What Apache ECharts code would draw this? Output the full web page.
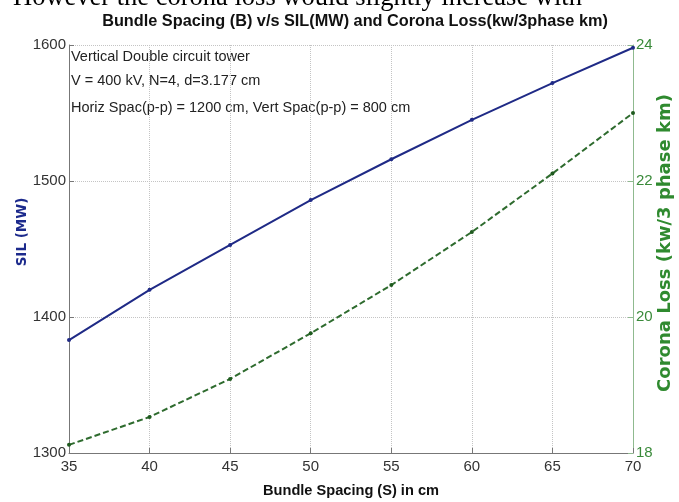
<!DOCTYPE html>
<html>
	<head>
		<meta charset="utf-8" />
		<title>Bundle Spacing vs SIL and Corona Loss</title>
		<script src="https://cdn.jsdelivr.net/npm/echarts@6/dist/echarts.min.js"></script>
		<style>
			body { margin: 0; background: #fff; }
			#main { width: 679px; height: 502px; }
		</style>
	</head>
	<body>
		<div id="main"></div>
		<script type="text/javascript">
			// bundle spacing (cm)
			var spacing = [35, 40, 45, 50, 55, 60, 65, 70];
			// SIL (MW)
			var sil = [1383, 1420, 1453, 1486, 1516, 1545, 1572, 1598];
			// corona loss (kw/3 phase km)
			var corona = [18.12, 18.53, 19.09, 19.76, 20.47, 21.25, 22.11, 23.0];

			var notes = [
				'Vertical Double circuit tower',
				'V = 400 kV, N=4, d=3.177 cm',
				'Horiz Spac(p-p) = 1200 cm, Vert Spac(p-p) = 800 cm'
			];

			function pairs(xs, ys) {
				var out = [];
				for (var i = 0; i < xs.length; i++) out.push([xs[i], ys[i]]);
				return out;
			}

			var sans = '"Liberation Sans", Arial, sans-serif';
			var gridLine = { show: true, lineStyle: { color: '#c4c4c4', type: 'dotted', width: 1 } };

			var myChart = echarts.init(document.getElementById('main'));

			var option = {
				backgroundColor: '#fff',
				animation: false,
				title: {
					text: 'Bundle Spacing (B) v/s SIL(MW) and Corona Loss(kw/3phase km)',
					left: 350,
					textAlign: 'center',
					top: 9,
					textStyle: { fontFamily: sans, fontSize: 16.3, fontWeight: 'bold', color: '#111' }
				},
				graphic: [
					{
						type: 'text', left: 13, top: -15,
						style: { text: 'However the corona loss would slightly increase with', fontFamily: '"Liberation Serif", serif', fontSize: 26.5, fill: '#000' }
					},
					{
						type: 'text', left: 71, top: 49,
						style: { text: notes[0], fontFamily: sans, fontSize: 14.5, fill: '#222' }
					},
					{
						type: 'text', left: 71, top: 73,
						style: { text: notes[1], fontFamily: sans, fontSize: 14.5, fill: '#222' }
					},
					{
						type: 'text', left: 71, top: 100,
						style: { text: notes[2], fontFamily: sans, fontSize: 14.5, fill: '#222' }
					},
					{
						type: 'text', x: 22, y: 232, rotation: Math.PI / 2,
						style: { text: 'SIL (MW)', fontFamily: '"DejaVu Sans", sans-serif', fontSize: 13.5, fontWeight: 'bold', fill: '#1c2a8c', align: 'center', verticalAlign: 'middle' }
					},
					{
						type: 'text', x: 665, y: 243, rotation: Math.PI / 2,
						style: { text: 'Corona Loss (kw/3 phase km)', fontFamily: '"DejaVu Sans", sans-serif', fontSize: 18, fontWeight: 'bold', fill: '#2f8a2f', align: 'center', verticalAlign: 'middle' }
					}
				],
				grid: { left: 69, right: 46, top: 45, bottom: 49, outerBoundsMode: 'none', containLabel: false },
				xAxis: {
					type: 'value',
					min: 35, max: 70, interval: 5,
					name: 'Bundle Spacing (S) in cm',
					nameLocation: 'middle',
					nameGap: 30,
					nameTextStyle: { fontFamily: sans, fontSize: 14.6, fontWeight: 'bold', color: '#111' },
					axisLine: { show: true, onZero: false, lineStyle: { color: '#777' } },
					axisTick: { show: true, inside: true, length: 5, lineStyle: { color: '#777' } },
					axisLabel: { fontFamily: sans, fontSize: 15, color: '#333', margin: 6 },
					splitLine: gridLine
				},
				yAxis: [
					{
						type: 'value',
						min: 1300, max: 1600, interval: 100,
						axisLine: { show: true, lineStyle: { color: '#777' } },
						axisTick: { show: true, inside: true, length: 5, lineStyle: { color: '#777' } },
						axisLabel: { fontFamily: sans, fontSize: 15, color: '#333', margin: 3, formatter: function (v) { return String(v); } },
						splitLine: gridLine
					},
					{
						type: 'value',
						min: 18, max: 24, interval: 2,
						axisLine: { show: true, lineStyle: { color: '#8fba8f' } },
						axisTick: { show: true, inside: true, length: 5, lineStyle: { color: '#8fba8f' } },
						axisLabel: { fontFamily: sans, fontSize: 15, color: '#3a8a3a', margin: 3 },
						splitLine: { show: false }
					}
				],
				series: [
					{
						name: 'SIL',
						type: 'line',
						yAxisIndex: 0,
						data: pairs(spacing, sil),
						symbol: 'circle',
						symbolSize: 4,
						lineStyle: { color: '#1f2a86', width: 2 },
						itemStyle: { color: '#1f2a86' }
					},
					{
						name: 'Corona Loss',
						type: 'line',
						yAxisIndex: 1,
						data: pairs(spacing, corona),
						symbol: 'circle',
						symbolSize: 4,
						lineStyle: { color: '#2e6b2e', width: 2, type: [6, 3] },
						itemStyle: { color: '#1e5a1e' }
					}
				]
			};

			myChart.setOption(option);
		</script>
	</body>
</html>
